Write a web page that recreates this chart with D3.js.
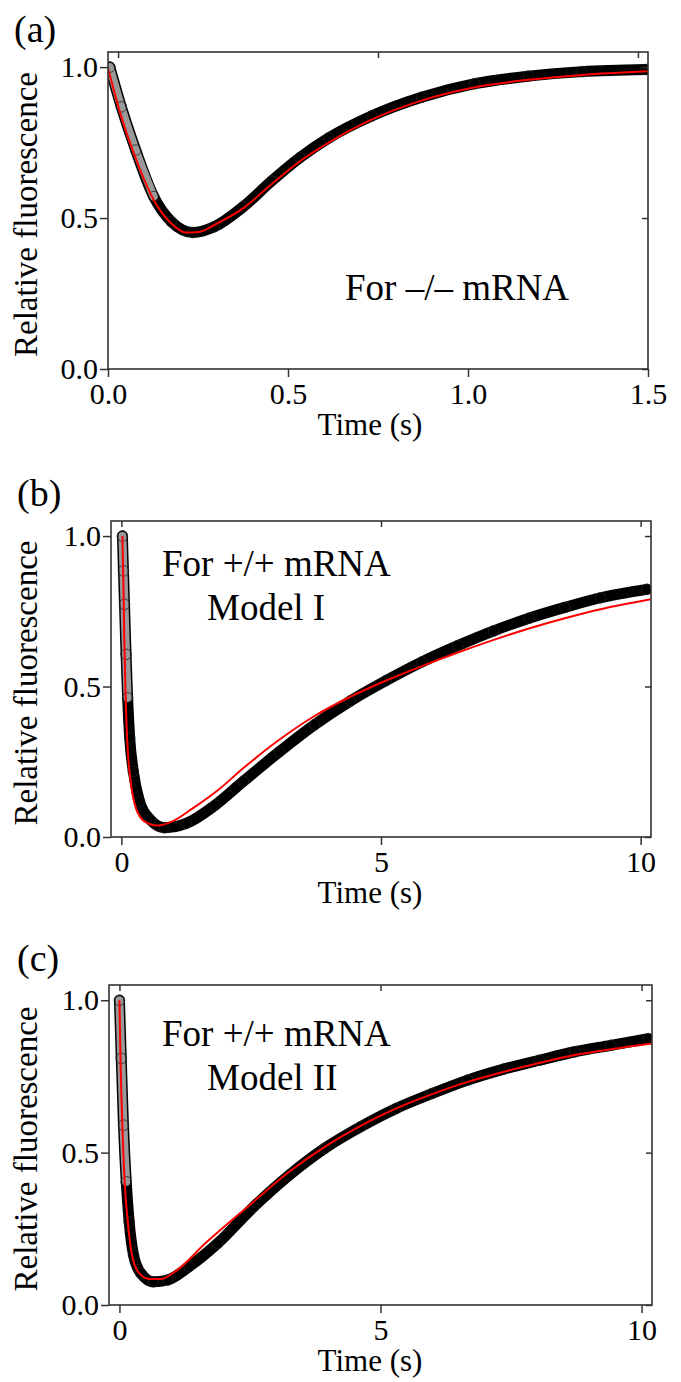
<!DOCTYPE html>
<html>
<head>
<meta charset="utf-8">
<script src="https://cdn.jsdelivr.net/npm/d3@7"></script>
<style>
  body { margin: 0; background: #fff; }
  text { font-family: "Liberation Serif", "Times New Roman", serif; fill: #000; }
</style>
</head>
<body>
<svg id="chart"></svg>
<script>
// ---- datos ----
// (a) For –/– mRNA : tiempo (s) y fluorescencia relativa
const tObsA = [0.005, 0.037, 0.077, 0.127, 0.176, 0.236, 0.295, 0.375, 0.454, 0.533, 0.613, 0.732, 0.871, 1.019, 1.168, 1.317, 1.494];
const obsA  = [1.0, 0.868, 0.725, 0.571, 0.488, 0.452, 0.471, 0.537, 0.622, 0.700, 0.765, 0.838, 0.900, 0.945, 0.970, 0.985, 0.992];
const tFitA = [0.0, 0.037, 0.077, 0.127, 0.176, 0.216, 0.256, 0.295, 0.375, 0.454, 0.533, 0.613, 0.732, 0.871, 1.019, 1.168, 1.317, 1.5];
const fitA  = [0.996, 0.836, 0.698, 0.560, 0.482, 0.452, 0.455, 0.477, 0.532, 0.612, 0.688, 0.750, 0.826, 0.889, 0.933, 0.958, 0.974, 0.986];

// (b) For +/+ mRNA, Model I
const tObsB = [0.02, 0.04, 0.06, 0.09, 0.12, 0.16, 0.23, 0.35, 0.56, 0.83, 1.25, 1.80, 2.35, 3.04, 3.72, 4.41, 5.10, 5.79, 6.48, 7.17, 7.85, 8.54, 9.23, 10.12];
const obsB  = [1.0, 0.884, 0.773, 0.607, 0.462, 0.329, 0.218, 0.118, 0.057, 0.031, 0.045, 0.105, 0.185, 0.283, 0.373, 0.452, 0.520, 0.582, 0.636, 0.685, 0.727, 0.763, 0.795, 0.823];
const tFitB = [0.02, 0.04, 0.056, 0.077, 0.11, 0.18, 0.28, 0.45, 0.70, 0.97, 1.38, 1.87, 2.35, 3.04, 3.72, 4.41, 5.10, 5.79, 6.48, 7.17, 7.85, 8.54, 9.23, 10.2];
const fitB  = [1.0, 0.829, 0.662, 0.496, 0.329, 0.184, 0.096, 0.051, 0.038, 0.051, 0.096, 0.157, 0.229, 0.323, 0.402, 0.466, 0.520, 0.568, 0.613, 0.655, 0.693, 0.727, 0.757, 0.790];

// (c) For +/+ mRNA, Model II
const tObsC = [0.0, 0.035, 0.077, 0.13, 0.186, 0.27, 0.41, 0.65, 0.925, 1.335, 1.88, 2.57, 3.25, 3.93, 4.62, 5.30, 5.99, 6.67, 7.36, 8.04, 8.72, 9.41, 10.13];
const obsC  = [1.0, 0.809, 0.590, 0.404, 0.273, 0.164, 0.104, 0.076, 0.082, 0.126, 0.202, 0.322, 0.426, 0.514, 0.585, 0.645, 0.694, 0.738, 0.774, 0.803, 0.831, 0.852, 0.874];
const tFitC = [0.0, 0.02, 0.056, 0.10, 0.16, 0.24, 0.38, 0.58, 0.79, 1.06, 1.68, 2.57, 3.25, 3.93, 4.62, 5.30, 5.99, 6.67, 7.36, 8.04, 8.72, 9.41, 10.2];
const fitC  = [1.0, 0.809, 0.590, 0.404, 0.273, 0.164, 0.104, 0.085, 0.085, 0.109, 0.208, 0.339, 0.437, 0.519, 0.588, 0.645, 0.692, 0.732, 0.765, 0.794, 0.820, 0.839, 0.858];

// marcas de los ejes
const yTicks = [0, 0.5, 1.0];
const xTicksA = [0, 0.5, 1.0, 1.5];
const xTopTicksA = [0.028, 0.75, 1.472];
const xTicksBC = [0, 5, 10];

const panelLabels = ["(a)", "(b)", "(c)"];
const notes = [["For \u2013/\u2013 mRNA"], ["For +/+ mRNA", "Model I"], ["For +/+ mRNA", "Model II"]];

const width = 681, height = 1382;
let svg = d3.select("#chart").attr("width", width).attr("height", height);

// posición de cada panel
const panels = [
  { left: 108, right: 648, top: 52,  bottom: 369,  xDomain: [0, 1.5],
    tObs: tObsA, obs: obsA, tFit: tFitA, fit: fitA, grayUntil: 0.16,
    xTicks: xTicksA, xTop: xTopTicksA, fmt: d3.format(".1f"),
    label: [14, 42], note: [[345, 300]] },
  { left: 111, right: 651, top: 521, bottom: 837,  xDomain: [-0.2, 10.2],
    tObs: tObsB, obs: obsB, tFit: tFitB, fit: fitB, grayUntil: 0.125,
    xTicks: xTicksBC, xTop: xTicksBC, fmt: d3.format("d"),
    label: [17, 506], note: [[162, 576], [207, 620]] },
  { left: 109, right: 652, top: 985, bottom: 1305, xDomain: [-0.2, 10.2],
    tObs: tObsC, obs: obsC, tFit: tFitC, fit: fitC, grayUntil: 0.135,
    xTicks: xTicksBC, xTop: xTicksBC, fmt: d3.format("d"),
    label: [17, 971], note: [[162, 1046], [207, 1090]] }
];

const axisColor = "#333";

panels.forEach(function(p, i) {
  let g = svg.append("g");

  let x = d3.scaleLinear().domain(p.xDomain).range([p.left, p.right]);
  let y = d3.scaleLinear().domain([0, 1.05]).range([p.bottom, p.top]);

  // recorte al marco
  svg.append("clipPath")
      .attr("id", "clip" + i)
      .append("rect")
      .attr("x", p.left)
      .attr("y", p.top)
      .attr("width", p.right - p.left)
      .attr("height", p.bottom - p.top);

  let plot = g.append("g").attr("clip-path", "url(#clip" + i + ")");

  // datos experimentales: banda gruesa de círculos negros
  let obsPts = p.tObs.map((t, k) => [t, p.obs[k]]);
  let fitPts = p.tFit.map((t, k) => [t, p.fit[k]]);

  let line = d3.line()
      .x(d => x(d[0]))
      .y(d => y(d[1]))
      .curve(d3.curveMonotoneX);

  plot.append("path")
      .datum(obsPts)
      .attr("d", line)
      .attr("fill", "none")
      .attr("stroke", "#000")
      .attr("stroke-width", 11)
      .attr("stroke-linecap", "round")
      .attr("stroke-linejoin", "round");

  // tramo inicial más claro (círculos separados)
  plot.append("path")
      .datum(obsPts.filter(d => d[0] <= p.grayUntil))
      .attr("d", line)
      .attr("fill", "none")
      .attr("stroke", "#999")
      .attr("stroke-width", 8)
      .attr("stroke-linecap", "round");

  plot.selectAll("circle")
      .data(obsPts)
      .enter()
      .append("circle")
      .attr("cx", d => x(d[0]))
      .attr("cy", d => y(d[1]))
      .attr("r", 5.3)
      .attr("fill", "none")
      .attr("stroke", "#222")
      .attr("stroke-width", 0.8);

  // ajuste del modelo (línea roja)
  plot.append("path")
      .datum(fitPts)
      .attr("d", line)
      .attr("fill", "none")
      .attr("stroke", "#ff0000")
      .attr("stroke-width", 2);

  // marco
  g.append("rect")
      .attr("x", p.left)
      .attr("y", p.top)
      .attr("width", p.right - p.left)
      .attr("height", p.bottom - p.top)
      .attr("fill", "none")
      .attr("stroke", axisColor)
      .attr("stroke-width", 1.6);

  // ejes
  let left = g.append("g")
      .attr("transform", "translate(" + p.left + ",0)")
      .call(d3.axisLeft(y).tickValues(yTicks).tickFormat(d3.format(".1f"))
            .tickSize(8).tickPadding(2).tickSizeOuter(0));
  let right = g.append("g")
      .attr("transform", "translate(" + p.right + ",0)")
      .call(d3.axisLeft(y).tickValues(yTicks).tickFormat("").tickSize(6).tickSizeOuter(0));
  let bottom = g.append("g")
      .attr("transform", "translate(0," + p.bottom + ")")
      .call(d3.axisBottom(x).tickValues(p.xTicks).tickFormat(p.fmt)
            .tickSize(8).tickPadding(6).tickSizeOuter(0));
  let top = g.append("g")
      .attr("transform", "translate(0," + p.top + ")")
      .call(d3.axisBottom(x).tickValues(p.xTop).tickFormat("").tickSize(6).tickSizeOuter(0));

  [left, right, bottom, top].forEach(function(ax) {
    ax.select(".domain").remove();
    ax.attr("font-family", null).attr("font-size", 30);
    ax.selectAll("line").attr("stroke", axisColor).attr("stroke-width", 1.5);
    ax.selectAll("text").attr("fill", "#000");
  });

  // títulos de los ejes
  g.append("text")
      .attr("x", 370)
      .attr("y", p.bottom + 66)
      .attr("text-anchor", "middle")
      .attr("font-size", 31)
      .text("Time (s)");

  g.append("text")
      .attr("transform", "translate(37," + ((p.top + p.bottom) / 2 + 4) + ") rotate(-90)")
      .attr("text-anchor", "middle")
      .attr("font-size", 33)
      .text("Relative fluorescence");

  // etiqueta del panel
  g.append("text")
      .attr("x", p.label[0])
      .attr("y", p.label[1])
      .attr("font-size", 38)
      .text(panelLabels[i]);

  // anotaciones
  notes[i].forEach(function(s, k) {
    g.append("text")
        .attr("x", p.note[k][0])
        .attr("y", p.note[k][1])
        .attr("font-size", 37)
        .text(s);
  });
});
</script>
</body>
</html>
